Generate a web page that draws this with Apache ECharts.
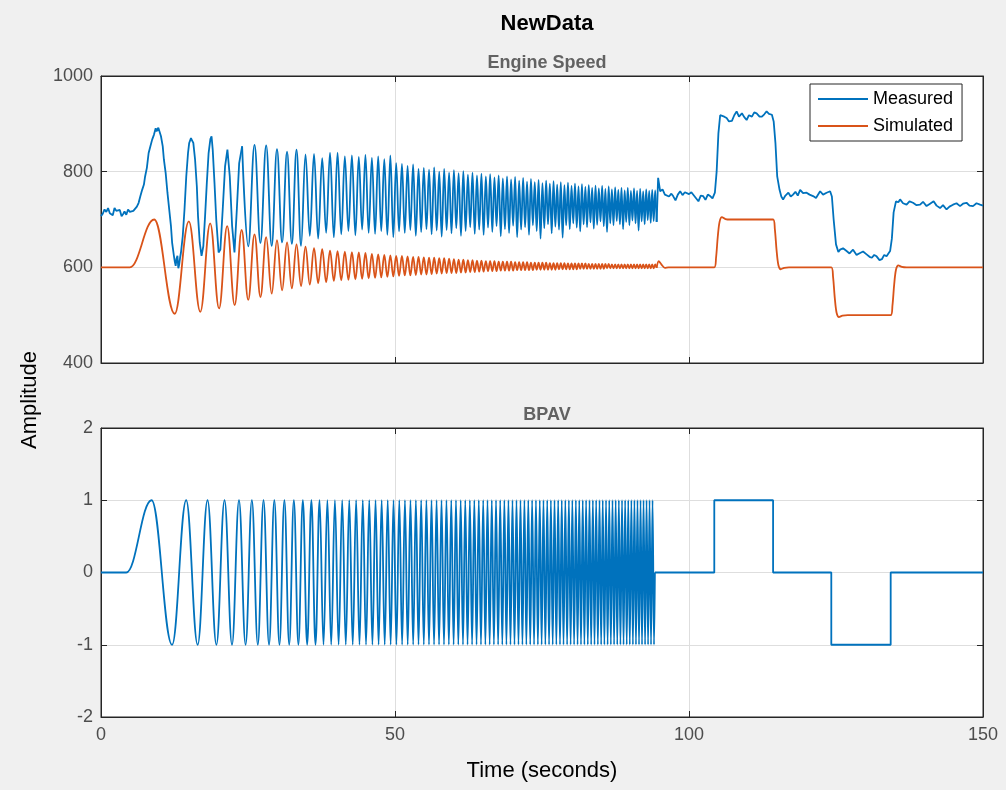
<!DOCTYPE html>
<html><head><meta charset="utf-8">
<script src="https://cdn.jsdelivr.net/npm/echarts@6/dist/echarts.min.js"></script>
<style>html,body{margin:0;padding:0;background:#f0f0f0;}#chart{width:1006px;height:790px;}</style>
</head><body><div id="chart"></div>
<script>
// ---------- data ----------
const xTickValues = [0, 50, 100, 150];
const speedTickValues = [400, 600, 800, 1000];
const bpavTickValues = [-2, -1, 0, 1, 2];

// times (s) of successive peaks / troughs of the BPAV chirp (peak, trough, peak, ...)
const chirpExtremaT = [
 8.60,12.09,14.49,16.44,18.12,19.63,21.01,22.28,23.47,24.59,
 25.66,26.67,27.64,28.58,29.48,30.35,31.19,32.01,32.80,33.57,
 34.33,35.06,35.78,36.48,37.17,37.84,38.50,39.15,39.78,40.41,
 41.02,41.63,42.22,42.81,43.39,43.96,44.52,45.07,45.62,46.16,
 46.69,47.21,47.73,48.25,48.76,49.26,49.75,50.24,50.73,51.21,
 51.69,52.16,52.63,53.09,53.55,54.00,54.45,54.90,55.34,55.78,
 56.21,56.64,57.07,57.49,57.91,58.33,58.75,59.16,59.57,59.97,
 60.37,60.77,61.17,61.56,61.95,62.34,62.73,63.11,63.49,63.87,
 64.25,64.62,65.00,65.37,65.73,66.10,66.46,66.82,67.18,67.54,
 67.89,68.25,68.60,68.95,69.29,69.64,69.98,70.32,70.66,71.00,
 71.34,71.67,72.01,72.34,72.67,73.00,73.32,73.65,73.97,74.30,
 74.62,74.94,75.25,75.57,75.89,76.20,76.51,76.82,77.13,77.44,
 77.75,78.06,78.36,78.66,78.97,79.27,79.57,79.87,80.16,80.46,
 80.76,81.05,81.34,81.63,81.93,82.21,82.50,82.79,83.08,83.36,
 83.65,83.93,84.21,84.50,84.78,85.06,85.33,85.61,85.89,86.16,
 86.44,86.71,86.99,87.26,87.53,87.80,88.07,88.34,88.61,88.87,
 89.14,89.41,89.67,89.93,90.20,90.46,90.72,90.98,91.24,91.50,
 91.76,92.01,92.27,92.53,92.78,93.04,93.29,93.54,93.80,94.05
];
const bpavAmplitude = 1;
const bpavStart = [[0,0],[4.3,0]];
const bpavChirpEnd = [[94.2,0]];
const bpavSteps = [[94.2,0],[104.3,0],[104.3,1],[114.3,1],[114.3,0],[124.2,0],[124.2,-1],[134.3,-1],[134.3,0],[150,0]];

// engine speed response lags the input by about this much (s)
const responseLag = 0.45;

// Simulated engine speed
const simStart = [[0,600],[4.9,600]];
const simExtrema = [
 700,503,696,507,692,514,686,521,678,532,
 669,538,663,545,657,552,652,556,648,561,
 643,564,640,567,638,569,635,572,634,573,
 633,574,632,575,631,576,630,577,628,578,
 627,579,626,580,625,581,624,582,624,583,
 623,583,622,584,622,585,621,585,620,586,
 620,587,619,587,619,588,618,588,617,588,
 616,589,616,589,615,590,615,590,614,591,
 614,591,613,592,613,592,613,592,612,593,
 612,593,612,593,612,593,611,594,611,594,
 611,594,611,594,610,594,610,595,610,595,
 610,595,610,595,609,595,609,595,609,596,
 609,596,609,596,608,596,608,596,608,596,
 608,597,608,597,608,597,607,597,607,597,
 607,597,607,597,607,597,607,598,607,598,
 606,598,606,598,606,598,606,598,606,598,
 606,598,606,598,606,598,606,598,606,598,
 606,598,606,598,606,598,606,598,606,599
];
const simTail = [[94.85,613],[95.3,606],[95.9,599],[96.5,600],[104.3,600],[104.6,620],[104.9,665],[105.2,695],[105.6,705],[106.2,701],[107.0,700],[114.3,700],[114.6,680],[114.9,635],[115.2,605],[115.6,596],[116.2,599],[117.0,600],[124.2,600],[124.5,580],[124.8,535],[125.1,505],[125.5,496],[126.1,499],[127.0,500],[134.3,500],[134.6,520],[134.9,565],[135.2,595],[135.6,604],[136.2,601],[137.0,600],[150,600]];

// Measured engine speed
const measStart = [[0,707],[0.3,712],[0.6,721],[0.9,716],[1.2,724],[1.5,713],[1.7,717],[2.0,709],[2.3,724],[2.6,718],[2.9,714],[3.2,720],[3.5,707],[3.8,712],[4.0,717],[4.3,710],[4.6,721],[4.9,716],[5.2,714],[5.5,718],[5.8,721],[6.1,727],[6.4,735],[6.7,749],[7.0,762],[7.3,773],[7.5,790],[7.8,808],[8.1,839],[8.4,853],[8.7,867],[9.0,877],[9.3,891],[9.45,884],[9.6,881],[9.75,892],[9.9,888],[10.2,874],[10.5,853],[10.7,825],[11.0,797],[11.3,756],[11.6,721],[11.9,686],[12.1,651],[12.4,624],[12.55,612],[12.7,603],[12.85,618],[13.0,624],[13.15,598],[13.3,606],[13.45,620],[13.6,631],[13.9,665],[14.2,721],[14.5,790],[14.8,839],[15.0,860],[15.3,870],[15.5,865],[15.7,860],[16.0,825],[16.3,769],[16.5,707],[16.8,651],[17.1,624],[17.4,644],[17.7,707],[18.0,777],[18.3,839],[18.6,868],[18.8,874],[19.0,846],[19.3,777],[19.6,700],[20.0,631],[20.3,637],[20.7,721],[21.1,811],[21.5,846],[21.9,790],[22.3,686],[22.7,631],[23.1,721],[23.5,818],[24.0,853]];
// measured peaks/troughs from the 10th chirp extremum on
const measExtremaFirst = 9;
const measExtrema = [
 644,856,651,855,645,847,652,842,649,846,
 645,836,666,837,660,828,672,840,663,840,
 669,832,676,834,667,831,679,835,672,829,
 670,832,676,826,668,834,663,818,675,816,
 672,812,678,815,666,806,674,808,680,804,
 669,809,677,800,664,806,678,798,671,803,
 682,797,666,801,676,794,684,798,670,792,
 679,796,668,790,683,795,674,788,686,792,
 665,786,680,790,672,784,687,789,663,781,
 679,787,684,779,668,785,688,778,676,783,
 660,776,682,781,690,775,671,780,685,773,
 679,778,662,772,688,777,680,770,692,775,
 683,769,675,774,690,768,684,772,694,766,
 681,771,689,765,696,770,686,764,674,769,
 692,763,688,767,697,762,690,766,680,761,
 695,766,688,760,698,765,692,760,677,764,
 696,759,690,763,699,760,693,762,697,761,
 695
];
const measTail = [[94.75,787],[95.1,759],[95.5,763],[95.9,752],[96.2,756],[96.6,748],[97.0,754],[97.3,749],[97.7,740],[98.1,752],[98.5,759],[98.9,751],[99.3,757],[99.6,759],[100.0,753],[100.4,757],[100.7,756],[101.1,746],[101.6,738],[102.0,750],[102.4,749],[102.8,741],[103.2,752],[103.6,749],[104.0,744],[104.4,756],[104.7,800],[105.0,880],[105.3,918],[105.6,922],[106.0,915],[106.4,912],[106.8,905],[107.3,906],[107.7,918],[108.1,926],[108.5,915],[109.0,922],[109.4,914],[109.8,908],[110.2,918],[110.7,915],[111.1,924],[111.5,922],[112.0,915],[112.4,915],[112.8,920],[113.2,926],[113.6,921],[114.1,919],[114.4,905],[114.7,860],[115.0,790],[115.4,762],[115.7,748],[116.0,742],[116.4,750],[116.9,756],[117.3,748],[117.7,752],[118.1,758],[118.5,750],[118.9,762],[119.4,755],[120.0,756],[120.5,752],[121.1,749],[121.6,745],[122.3,759],[122.8,752],[123.4,756],[124.0,759],[124.3,748],[124.6,700],[125.0,648],[125.4,632],[125.7,637],[126.2,640],[126.8,634],[127.3,629],[127.9,637],[128.5,626],[129.1,630],[129.6,633],[130.2,627],[130.7,622],[131.1,620],[131.5,626],[131.9,623],[132.4,615],[132.8,617],[133.2,626],[133.6,623],[134.2,634],[134.5,660],[134.8,715],[135.2,738],[135.6,736],[135.9,742],[136.4,734],[137.0,731],[137.5,738],[138.1,735],[138.7,730],[139.3,731],[139.8,737],[140.4,728],[141.0,733],[141.6,738],[142.1,729],[142.7,724],[143.2,730],[143.8,721],[144.3,727],[144.9,731],[145.5,734],[146.1,728],[146.6,733],[147.2,735],[147.7,729],[148.3,728],[148.9,734],[149.5,731],[150,729]];

// ---------- build series ----------
const C_MEAS = '#0072BD', C_SIM = '#D95319';
const FONT = 'Liberation Sans, Arial, Helvetica, sans-serif';
const lagged = (vals, first) => vals.map((v, i) => [Math.round((chirpExtremaT[i + first] + responseLag) * 100) / 100, v]);

const bpavChirp = bpavStart.concat(chirpExtremaT.map((t, i) => [t, i % 2 === 0 ? bpavAmplitude : -bpavAmplitude]), bpavChirpEnd);
const simChirp = simStart.concat(lagged(simExtrema, 0));
const simRest = [simChirp[simChirp.length - 1]].concat(simTail);
const measChirp = [measStart[measStart.length - 1]].concat(lagged(measExtrema, measExtremaFirst));
const measRest = [measChirp[measChirp.length - 1]].concat(measTail);

const axisColor = '#262626';
const gridLine = {show: true, lineStyle: {color: '#dedede', width: 1}};
function xAx(grid, pos, labels) {
  return {gridIndex: grid, type: 'value', position: pos, min: xTickValues[0], max: xTickValues[xTickValues.length-1],
    interval: xTickValues[1]-xTickValues[0],
    axisLine: {show: true, onZero: false, lineStyle: {color: axisColor}},
    axisTick: {show: true, inside: true, length: 6, lineStyle: {color: axisColor}},
    axisLabel: {show: labels, color: '#4d4d4d', fontSize: 18, fontFamily: FONT, margin: 9, formatter: v => String(v)},
    splitLine: pos === 'bottom' ? gridLine : {show: false}};
}
function yAx(grid, pos, ticks) {
  return {gridIndex: grid, type: 'value', position: pos, min: ticks[0], max: ticks[ticks.length-1],
    interval: ticks[1]-ticks[0],
    axisLine: {show: true, onZero: false, lineStyle: {color: axisColor}},
    axisTick: {show: true, inside: true, length: 6, lineStyle: {color: axisColor}},
    axisLabel: {show: pos === 'left', color: '#4d4d4d', fontSize: 18, fontFamily: FONT, margin: 8, formatter: v => String(v)},
    splitLine: pos === 'left' ? gridLine : {show: false}};
}
const xAxes = [xAx(0,'bottom',false), xAx(0,'top',false), xAx(1,'bottom',true), xAx(1,'top',false)];
xAxes[2].name = 'Time (seconds)';
xAxes[2].nameLocation = 'middle';
xAxes[2].nameGap = 43;
xAxes[2].nameTextStyle = {fontSize: 22, color: '#000', fontFamily: FONT};

function line(name, data, color, xi, yi, smooth, mono) {
  const s = {name, type: 'line', data, xAxisIndex: xi, yAxisIndex: yi, showSymbol: false, symbol: 'none',
    lineStyle: {color, width: 1.8}, itemStyle: {color}, smooth: smooth, animation: false, silent: true};
  if (mono) s.smoothMonotone = 'x';
  return s;
}

const chart = echarts.init(document.getElementById('chart'), null, {renderer: 'canvas'});
chart.setOption({
  backgroundColor: '#f0f0f0',
  animation: false,
  title: [
    {text: 'NewData', left: 542, top: 8, textAlign: 'center', textStyle: {fontSize: 22, fontWeight: 'bold', color: '#000', fontFamily: FONT}},
    {text: 'Engine Speed', left: 542, top: 49, textAlign: 'center', textStyle: {fontSize: 18, fontWeight: 'bold', color: '#626262', fontFamily: FONT}},
    {text: 'BPAV', left: 542, top: 401, textAlign: 'center', textStyle: {fontSize: 18, fontWeight: 'bold', color: '#626262', fontFamily: FONT}}
  ],
  grid: [
    {left: 101, right: 23, top: 76, height: 287, show: true, backgroundColor: '#fff', borderColor: axisColor, borderWidth: 1},
    {left: 101, right: 23, top: 428, height: 289, show: true, backgroundColor: '#fff', borderColor: axisColor, borderWidth: 1}
  ],
  xAxis: xAxes,
  yAxis: [yAx(0,'left',speedTickValues), yAx(0,'right',speedTickValues), yAx(1,'left',bpavTickValues), yAx(1,'right',bpavTickValues)],
  legend: {
    data: ['Measured', 'Simulated'], orient: 'vertical', left: 810, top: 84, icon: 'rect', itemWidth: 50, itemHeight: 2,
    itemGap: 9, padding: [6, 9, 6, 8], backgroundColor: '#fff', borderColor: axisColor, borderWidth: 1, borderRadius: 0,
    textStyle: {fontSize: 18, color: '#000', fontFamily: FONT}
  },
  graphic: [
    {type: 'text', x: 30, y: 400, rotation: Math.PI / 2,
     style: {text: 'Amplitude', fontSize: 22, fill: '#000', fontFamily: FONT, textAlign: 'center', textVerticalAlign: 'middle'}}
  ],
  series: [
    line('Measured', measStart, C_MEAS, 0, 0, false, false),
    line('Measured', measChirp, C_MEAS, 0, 0, 0.4, true),
    line('Measured', measRest, C_MEAS, 0, 0, false, false),
    line('Simulated', simChirp, C_SIM, 0, 0, 0.4, true),
    line('Simulated', simRest, C_SIM, 0, 0, 0.3, false),
    line('BPAV', bpavChirp, C_MEAS, 2, 2, 0.4, true),
    line('BPAV', bpavSteps, C_MEAS, 2, 2, false, false)
  ]
});
</script></body></html>
